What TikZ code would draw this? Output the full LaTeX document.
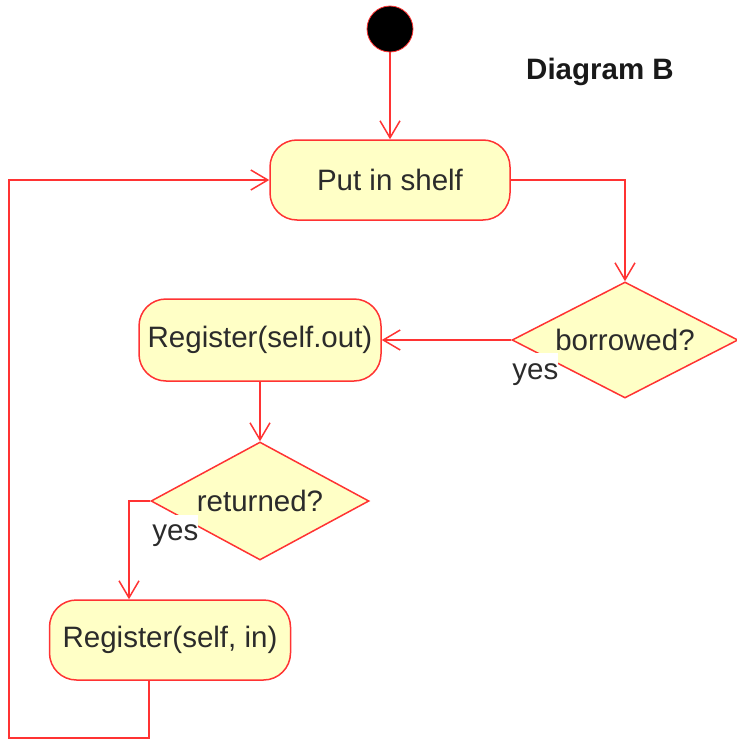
\documentclass[tikz,border=0pt]{standalone}
\usepackage{fontspec}
\setmainfont{Liberation Sans}
\usepackage{xcolor}
\usepackage{tikz}
\usetikzlibrary{shapes.geometric, positioning, calc, arrows.meta}

\definecolor{umlred}{HTML}{FF3333}
\definecolor{umlfill}{HTML}{FFFFC6}
\definecolor{umltext}{HTML}{2B2B2B}

\begin{document}
\begin{tikzpicture}[x=1pt, y=-1pt,
    font=\fontsize{29.5}{35}\selectfont,
    action/.style={draw=umlred, fill=umlfill, line width=1.5pt, rounded corners=27pt,
        minimum width=240pt, minimum height=80pt, inner sep=0pt, text=umltext},
    decision/.style={diamond, aspect=1.95, draw=umlred, fill=umlfill, line width=1.5pt,
        inner sep=0pt, text=umltext},
    guard/.style={fill=white, inner sep=0pt, text height=26pt, text depth=5pt,
        text=umltext, anchor=base west},
    flow/.style={draw=umlred, line width=1.5pt, -{Straight Barb[length=17pt, width=20pt]}}]

    \useasboundingbox (0,0) rectangle (736,741);

    % --- Initial state and title ---
    \node[circle, fill=black, draw=umlred, line width=0.8pt, minimum size=46pt, inner sep=0pt] (start) at (390,29) {};
    \node[font=\fontsize{29.5}{35}\selectfont\bfseries, text=black!90] (title) at (600,72) {Diagram B};

    % --- Actions ---
    \node[action] (shelf) at (390,180) {Put in shelf};
    \node[action, minimum width=242pt, minimum height=82pt] (selfout) at (260,340) {Register(self.out)};
    \node[action, minimum width=241pt] (selfin) at (170,640) {Register(self, in)};

    % --- Decisions ---
    \node[decision, minimum width=226pt, minimum height=116pt] (borrowed) at (625,340) {borrowed?};
    \node[decision, minimum width=218pt, minimum height=118pt] (returned) at (260,501) {returned?};

    % --- Guards ---
    \node[guard] (yesborrowed) at ($(borrowed.west)+(1,39)$) {yes};
    \node[guard] (yesreturned) at ($(returned.west)+(2,39.5)$) {yes};

    % --- Transitions ---
    \draw[flow] (start) -- (shelf);
    \draw[flow] (shelf.east) -| (borrowed.north);
    \draw[flow] (borrowed.west) -- (selfout.east);
    \draw[flow] (selfout.south) -- (returned.north);
    \draw[flow] (returned.west) -| ([xshift=-41pt]selfin.north);

    % loop back to the shelf
    \coordinate (back) at (9,738);
    \draw[flow] ([xshift=-21pt]selfin.south) |- (back) |- (shelf.west);

\end{tikzpicture}
\end{document}
